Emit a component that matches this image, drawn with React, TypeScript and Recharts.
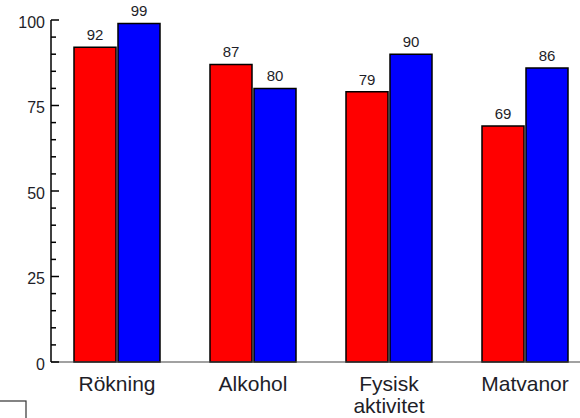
import React from 'react';
import { BarChart, Bar, XAxis, YAxis, LabelList, Customized } from 'recharts';

// Share of respondents per lifestyle area (percent)
const categories = ['Rökning', 'Alkohol', 'Fysisk aktivitet', 'Matvanor'];
const redValues = [92, 87, 79, 69];
const blueValues = [99, 80, 90, 86];

// Axis ticks: minor every 5, labelled every 25
const yTicks = [0, 5, 10, 15, 20, 25, 30, 35, 40, 45, 50, 55, 60, 65, 70, 75, 80, 85, 90, 95, 100];
const yLabelled = [0, 25, 50, 75, 100];

const data = categories.map((name, i) => ({ name, red: redValues[i], blue: blueValues[i] }));

const FONT = "Arial, 'Liberation Sans', Helvetica, sans-serif";
const TEXT = '#1e1e28';

// Y tick: inward tick mark on the axis, label only on the major steps
const YTick = (props: any) => {
  const x = Number(props.x);
  const y = Number(props.y);
  const value = props.payload.value;
  const major = yLabelled.includes(value);
  const axisX = x + 6;
  return (
    <g>
      <path d={`M${axisX},${y}H${axisX + (major ? 8 : 5)}`} stroke="#000" strokeWidth={1.5} fill="none" />
      {major && (
        <text x={x} y={y + 2} dy="0.355em" textAnchor="end" fontSize={16} fontFamily={FONT} fill={TEXT}>
          {value}
        </text>
      )}
    </g>
  );
};

// Category tick: one word per line
const XTick = (props: any) => {
  const x = Number(props.x);
  const y = Number(props.y);
  const lines = String(props.payload.value).split(' ');
  return (
    <text x={x} y={y} textAnchor="middle" fontSize={21} fontFamily={FONT} fill={TEXT}>
      {lines.map((l, i) => (
        <tspan key={i} x={x} dy={i === 0 ? 21 : 22}>
          {l}
        </tspan>
      ))}
    </text>
  );
};

const LegendBox = () => (
  <rect x={-2} y={401} width={28} height={30} fill="none" stroke="#333" strokeWidth={1.2} />
);

export default function App() {
  return (
    <div style={{ position: 'absolute', left: 0, top: 0, width: 580, height: 418, overflow: 'hidden', background: '#fff' }}>
      <BarChart
        width={593}
        height={418}
        data={data}
        margin={{ top: 20, right: 0, bottom: 0, left: 0 }}
        barSize={42}
        barGap={2}
      >
        <XAxis
          dataKey="name"
          height={56}
          tickLine={false}
          axisLine={{ stroke: '#444', strokeWidth: 1.2 }}
          tick={<XTick />}
          interval={0}
          padding={{ left: -2, right: 0 }}
        />
        <YAxis
          width={51}
          domain={[0, 100]}
          ticks={yTicks}
          interval={0}
          tickSize={0}
          tickMargin={6}
          tickLine={false}
          axisLine={{ stroke: '#000', strokeWidth: 1.5 }}
          tick={<YTick />}
        />
        <Bar dataKey="red" fill="#ff0000" stroke="#000" strokeWidth={1.5} isAnimationActive={false}>
          <LabelList dataKey="red" position="top" offset={7} fontSize={15} fontFamily={FONT} fill={TEXT} />
        </Bar>
        <Bar dataKey="blue" fill="#0000ff" stroke="#000" strokeWidth={1.5} isAnimationActive={false}>
          <LabelList dataKey="blue" position="top" offset={7} fontSize={15} fontFamily={FONT} fill={TEXT} />
        </Bar>
        <Customized component={LegendBox} />
      </BarChart>
    </div>
  );
}
